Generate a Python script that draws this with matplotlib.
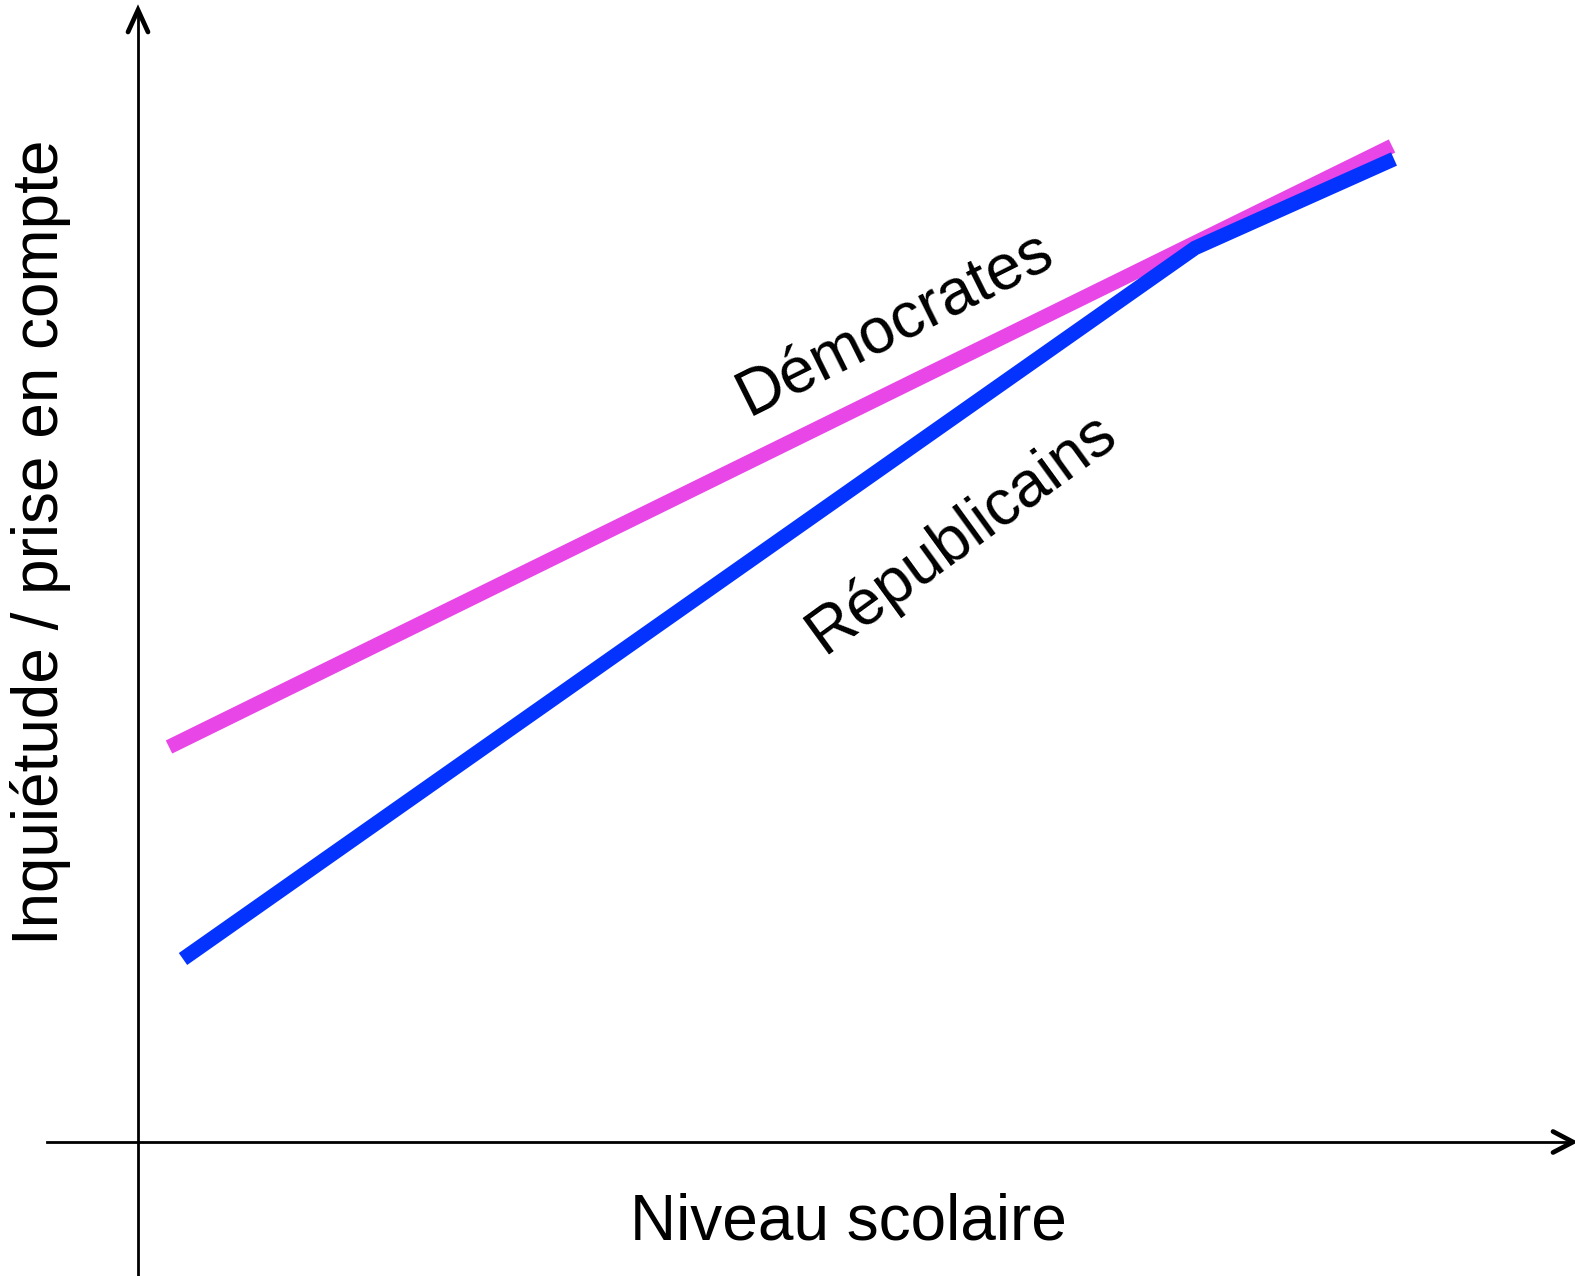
import matplotlib.pyplot as plt

plt.rcParams['font.family'] = ['Liberation Sans', 'DejaVu Sans']

# valeurs (unites arbitraires, origine au croisement des axes)
dem_x = [0.31, 12.54]
dem_y = [3.95, 9.96]
rep_x = [0.45, 10.57, 12.56]
rep_y = [1.83, 8.94, 9.83]

xlabel = 'Niveau scolaire'
ylabel = 'Inquiétude / prise en compte'

fig = plt.figure(figsize=(15.75, 12.76), dpi=100)
ax = fig.add_axes([0, 0, 1, 1])
ax.set_xlim(-1.38, 14.37)
ax.set_ylim(-1.34, 11.42)
ax.axis('off')

# axes
ax.plot([-0.91, 14.33], [0, 0], color='black', lw=2)
ax.plot([0, 0], [-1.4, 11.30], color='black', lw=2)
# fleches
ax.plot([14.15, 14.35, 14.15], [0.105, 0, -0.105], color='black', lw=3.4,
        solid_capstyle='round', solid_joinstyle='miter')
ax.plot([-0.10, 0, 0.10], [11.10, 11.32, 11.10], color='black', lw=3.4,
        solid_capstyle='round', solid_joinstyle='miter')

ax.plot(dem_x, dem_y, color='#E846E6', lw=10.5, solid_capstyle='butt')
ax.plot(rep_x, rep_y, color='#0433FF', lw=10.5, solid_capstyle='butt')

ax.text(7.57, 8.19, 'Démocrates', fontsize=46, rotation=26.5,
        ha='center', va='center', rotation_mode='anchor')
ax.text(8.24, 6.09, 'Républicains', fontsize=46, rotation=36,
        ha='center', va='center', rotation_mode='anchor')

ax.text(7.10, -0.81, xlabel, fontsize=46, ha='center', va='center')
ax.text(-0.97, 6.0, ylabel, fontsize=46, rotation=90, ha='center', va='center')

fig.savefig('out.png', dpi=100)
